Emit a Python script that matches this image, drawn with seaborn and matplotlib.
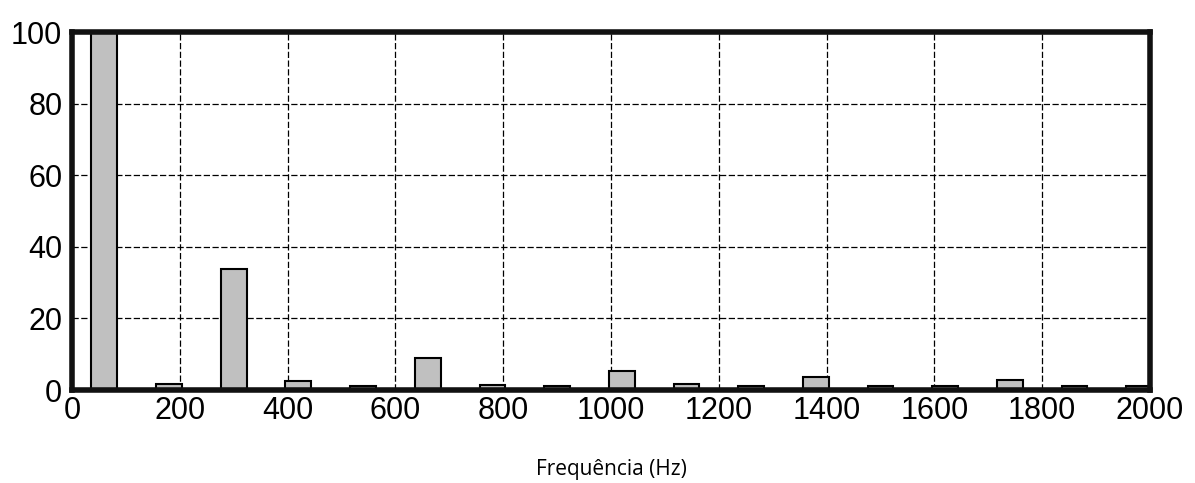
import numpy as np
import pandas as pd
import matplotlib
matplotlib.use("Agg")
import matplotlib.pyplot as plt
import seaborn as sns

# Harmonic spectrum (% of fundamental)
freqs = [60, 180, 300, 420, 540, 660, 780, 900, 1020, 1140, 1260, 1380, 1500, 1620, 1740, 1860, 1980]
amplitudes = [100, 1.6, 33.8, 2.6, 1.1, 9.0, 1.5, 1.1, 5.2, 1.6, 1.1, 3.6, 1.1, 1.1, 2.7, 1.1, 1.1]
x_ticks = list(range(0, 2001, 200))
y_ticks = list(range(0, 101, 20))

df = pd.DataFrame({'freq': freqs, 'amp': amplitudes})

sns.set_style("white")
plt.rcParams['font.family'] = ['Liberation Sans', 'DejaVu Sans']

fig = plt.figure(figsize=(11.95, 4.83), dpi=100)
ax = fig.add_axes([0.0603, 0.1925, 0.902, 0.7412])

sns.barplot(data=df, x='freq', y='amp', native_scale=True, width=0.4,
            color='#c0c0c0', saturation=1, edgecolor='black', linewidth=1.5, ax=ax)

ax.set_xlim(0, 2000)
ax.set_ylim(0, 100)
ax.set_xticks(x_ticks)
ax.set_yticks(y_ticks)
ax.set_xticklabels([str(t) for t in x_ticks], fontsize=22)
ax.set_yticklabels([str(t) for t in y_ticks], fontsize=22)
ax.tick_params(axis='x', length=0, pad=4, labelcolor='black')
ax.tick_params(axis='y', length=0, pad=7, labelcolor='black')

ax.set_axisbelow(True)
ax.grid(True, color='black', linestyle=(0, (5, 2)), linewidth=0.9)

for s in ax.spines.values():
    s.set_visible(True)
    s.set_color('#111111')
    s.set_linewidth(4)

ax.set_ylabel('')
ax.set_xlabel('Frequência (Hz)', fontsize=15, color='black',
              family=['Open Sans', 'DejaVu Sans'], labelpad=24)

fig.savefig('out.png', dpi=100)
